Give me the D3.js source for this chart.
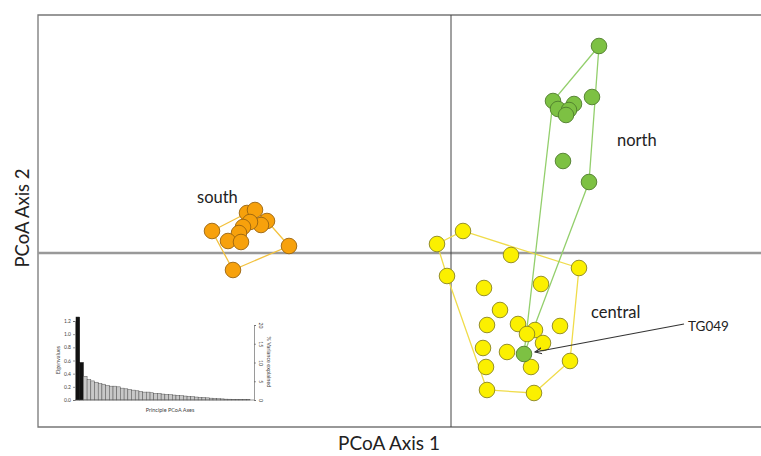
<!DOCTYPE html>
<html>
<head>
<meta charset="utf-8">
<script src="https://cdn.jsdelivr.net/npm/d3@7"></script>
<style>
  body { margin: 0; background: #fff; }
  text { font-family: Lato, "Open Sans", sans-serif; }
</style>
</head>
<body>
<svg id="chart" width="761" height="456"></svg>
<script>
// PCoA scores (axis 1, axis 2)
var south = [
  [-0.5975, 0.055], [-0.405, 0.0175], [-0.545, -0.0425], [-0.51, 0.1],
  [-0.49, 0.1075], [-0.46, 0.08], [-0.475, 0.07], [-0.5025, 0.0775],
  [-0.52, 0.065], [-0.53, 0.05], [-0.5575, 0.03], [-0.525, 0.0275]
];
var central = [
  [0.03, 0.055], [-0.035, 0.0225], [0.15, -0.005], [0.32, -0.0375],
  [-0.01, -0.0575], [0.0825, -0.0875], [0.225, -0.0775], [0.1225, -0.1425],
  [0.09, -0.18], [0.1675, -0.1775], [0.21, -0.1925], [0.19, -0.2025],
  [0.2725, -0.1825], [0.23, -0.225], [0.08, -0.2375], [0.14, -0.2475],
  [0.0875, -0.285], [0.2, -0.285], [0.2975, -0.27], [0.09, -0.3425],
  [0.2075, -0.35]
];
var north = [
  [0.37, 0.5175], [0.3525, 0.39], [0.255, 0.38], [0.3075, 0.3725],
  [0.2675, 0.36], [0.295, 0.3575], [0.2875, 0.345], [0.28, 0.23],
  [0.345, 0.1775], [0.1825, -0.2525]   // last one = TG049
];
var groupNames = ["south", "central", "north"];
var labelPos = [[-0.635, 0.125], [0.35, -0.1625], [0.415, 0.2675]];

// inset: eigenvalues of principal PCoA axes
var eigenvalues = [1.26, 0.57, 0.36, 0.31, 0.29, 0.27, 0.25, 0.24, 0.22, 0.21,
  0.21, 0.20, 0.18, 0.17, 0.16, 0.15, 0.14, 0.13, 0.12, 0.12, 0.11, 0.10, 0.10,
  0.09, 0.085, 0.08, 0.075, 0.07, 0.065, 0.06, 0.055, 0.05, 0.045, 0.04, 0.038,
  0.033, 0.028, 0.025, 0.02, 0.017, 0.013, 0.012, 0.01, 0.009, 0.008, 0.007, 0.006];
var eigenTicks = [0, 0.2, 0.4, 0.6, 0.8, 1.0, 1.2];
var varTicks = [0, 5, 10, 15, 20];

var svg = d3.select("#chart");

var x = d3.scaleLinear().domain([-1.0325, 0.775]).range([38, 761]);
var y = d3.scaleLinear().domain([-0.435, 0.595]).range([427, 15]);

// frame
svg.append("path")
  .attr("d", "M762," + y(0.595) + "H" + x(-1.0325) + "V" + y(-0.435) + "H762")
  .attr("fill", "none")
  .attr("stroke", "#777")
  .attr("stroke-width", 1.3);

// zero lines
svg.append("line")
  .attr("x1", x(-1.0325)).attr("x2", 761)
  .attr("y1", y(0)).attr("y2", y(0))
  .attr("stroke", "#999").attr("stroke-width", 2.4);
svg.append("line")
  .attr("x1", x(0)).attr("x2", x(0))
  .attr("y1", y(0.595)).attr("y2", y(-0.435))
  .attr("stroke", "#444").attr("stroke-width", 1);

// axis titles
svg.append("text")
  .attr("x", 389).attr("y", 450)
  .attr("text-anchor", "middle")
  .attr("font-size", "19px")
  .attr("fill", "#222")
  .text("PCoA Axis 1");
svg.append("text")
  .attr("transform", "translate(29,218) rotate(-90)")
  .attr("text-anchor", "middle")
  .attr("font-size", "18.5px")
  .attr("fill", "#222")
  .text("PCoA Axis 2");

var groups = [
  {data: south, fill: "#f7a10c", stroke: "#9a6410", hull: "#f3c23e"},
  {data: central, fill: "#fbf000", stroke: "#8a8420", hull: "#f0dc4a"},
  {data: north, fill: "#7dc143", stroke: "#4f7d2c", hull: "#93cf6c"}
];

// hulls
groups.forEach(function(g) {
  var pts = g.data.map(function(d) { return [x(d[0]), y(d[1])]; });
  var hull = d3.polygonHull(pts);
  svg.append("path")
    .attr("d", "M" + hull.join("L") + "Z")
    .attr("fill", "none")
    .attr("stroke", g.hull)
    .attr("stroke-width", 1.3);
});

// points
groups.forEach(function(g) {
  svg.append("g").selectAll("circle")
    .data(g.data)
    .enter()
    .append("circle")
    .attr("cx", function(d) { return x(d[0]); })
    .attr("cy", function(d) { return y(d[1]); })
    .attr("r", 7.8)
    .attr("fill", g.fill)
    .attr("stroke", g.stroke)
    .attr("stroke-width", 0.9);
});

// group labels
svg.selectAll(".glabel")
  .data(groupNames)
  .enter()
  .append("text")
  .attr("class", "glabel")
  .attr("x", function(d, i) { return x(labelPos[i][0]); })
  .attr("y", function(d, i) { return y(labelPos[i][1]); })
  .attr("font-size", "16.5px")
  .attr("fill", "#222")
  .text(function(d) { return d; });

// TG049 arrow
var tg = north[north.length - 1];
svg.append("defs").append("marker")
  .attr("id", "arrow")
  .attr("viewBox", "0 0 10 10")
  .attr("refX", 9).attr("refY", 5)
  .attr("markerWidth", 7).attr("markerHeight", 7)
  .attr("orient", "auto")
  .append("path")
  .attr("d", "M0,1L9,5L0,9")
  .attr("fill", "none")
  .attr("stroke", "#333")
  .attr("stroke-width", 1.4);
svg.append("line")
  .attr("x1", 684).attr("y1", 324)
  .attr("x2", x(tg[0]) + 11).attr("y2", y(tg[1]) - 2)
  .attr("stroke", "#333")
  .attr("stroke-width", 1.1)
  .attr("marker-end", "url(#arrow)");
svg.append("text")
  .attr("x", 688).attr("y", 331)
  .attr("font-size", "13.5px")
  .attr("fill", "#222")
  .text("TG049");

// inset bar chart
var bx = d3.scaleBand()
  .domain(d3.range(eigenvalues.length))
  .range([76, 250])
  .padding(0);
var by = d3.scaleLinear().domain([0, 1.2]).range([400, 321]);
var vy = d3.scaleLinear().domain([0, 20]).range([400, 325]);

var inset = svg.append("g");
inset.selectAll("rect")
  .data(eigenvalues)
  .enter()
  .append("rect")
  .attr("x", function(d, i) { return bx(i); })
  .attr("y", function(d) { return by(d); })
  .attr("width", bx.bandwidth())
  .attr("height", function(d) { return 400 - by(d); })
  .attr("fill", function(d, i) { return i < 2 ? "#111" : "#c8c8c8"; })
  .attr("stroke", function(d, i) { return i < 2 ? "#111" : "#555"; })
  .attr("stroke-width", 0.5);

inset.append("g")
  .attr("transform", "translate(75,0)")
  .call(d3.axisLeft(by).tickValues(eigenTicks).tickFormat(d3.format(".1f")).tickSize(2).tickPadding(2))
  .call(function(g) {
    g.selectAll("text").attr("font-size", "5px").attr("fill", "#444");
    g.selectAll("line,path").attr("stroke", "#555").attr("stroke-width", 0.6);
  });

inset.append("g")
  .attr("transform", "translate(254,0)")
  .call(d3.axisRight(vy).tickValues(varTicks).tickSize(2).tickPadding(2))
  .call(function(g) {
    g.selectAll("text")
      .attr("font-size", "5px").attr("fill", "#444")
      .attr("transform", "rotate(90)")
      .attr("x", 0).attr("dy", "0").attr("y", -5)
      .attr("text-anchor", "middle");
    g.selectAll("line,path").attr("stroke", "#555").attr("stroke-width", 0.6);
  });

inset.append("line")
  .attr("x1", 75).attr("x2", 254)
  .attr("y1", 400).attr("y2", 400)
  .attr("stroke", "#555").attr("stroke-width", 0.6);

inset.append("text")
  .attr("transform", "translate(60,360) rotate(-90)")
  .attr("text-anchor", "middle")
  .attr("font-size", "5.5px")
  .attr("fill", "#444")
  .text("Eigenvalues");
inset.append("text")
  .attr("transform", "translate(267,362) rotate(90)")
  .attr("text-anchor", "middle")
  .attr("font-size", "5.5px")
  .attr("fill", "#444")
  .text("% Variance explained");
inset.append("text")
  .attr("x", 170).attr("y", 412)
  .attr("text-anchor", "middle")
  .attr("font-size", "5.5px")
  .attr("fill", "#444")
  .text("Principle PCoA Axes");
</script>
</body>
</html>
